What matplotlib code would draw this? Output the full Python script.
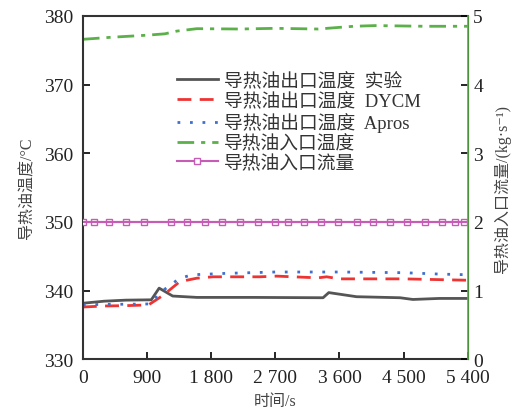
import matplotlib
matplotlib.use("Agg")
import matplotlib.pyplot as plt
from matplotlib.ticker import FixedLocator

plt.rcParams['font.family'] = ['Liberation Serif', 'Noto Sans CJK SC', 'DejaVu Sans']

# Outlet temperature, experiment
t_exp = [0, 300, 600, 960, 1070, 1260, 1600, 2400, 3370, 3450, 3840, 4450, 4630, 5000, 5400]
T_exp = [338.15, 338.45, 338.6, 338.65, 340.35, 339.2, 339.0, 339.0, 338.95, 339.7, 339.1, 338.95, 338.7, 338.85, 338.85]

# Outlet temperature, DYCM
t_dycm = [0, 300, 600, 920, 1125, 1360, 1600, 1825, 2480, 2720, 3300, 3420, 3600, 4500, 5400]
T_dycm = [337.6, 337.75, 337.8, 337.9, 339.3, 341.3, 341.8, 342.0, 342.0, 342.1, 341.85, 342.0, 341.7, 341.7, 341.5]

# Outlet temperature, Apros
t_apros = [0, 300, 600, 950, 1070, 1360, 1540, 2000, 2700, 3600, 4500, 5000, 5400]
T_apros = [337.9, 338.0, 338.0, 338.05, 339.6, 341.8, 342.3, 342.5, 342.7, 342.7, 342.6, 342.4, 342.3]

# Inlet temperature
t_in = [0, 400, 900, 1150, 1320, 1600, 2200, 2700, 3300, 3800, 4100, 4800, 5400]
T_in = [376.6, 376.9, 377.2, 377.4, 377.8, 378.15, 378.1, 378.2, 378.1, 378.5, 378.6, 378.5, 378.5]

# Inlet flow rate (kg/s)
t_flow = [0, 154, 365, 603, 856, 1234, 1459, 1711, 1950, 2202, 2455, 2693, 2875, 3100,
          3338, 3577, 3843, 4068, 4306, 4544, 4797, 5035, 5218, 5344, 5400]
flow = [2.0] * len(t_flow)

x_ticks = [0, 900, 1800, 2700, 3600, 4500, 5400]
x_labels = ['0', '900', '1 800', '2 700', '3 600', '4 500', '5 400']

labels = ['导热油出口温度  实验', '导热油出口温度  DYCM', '导热油出口温度  Apros',
          '导热油入口温度', '导热油入口流量']

fig = plt.figure(figsize=(5.18, 4.14), dpi=100)
ax = fig.add_axes([0.160, 0.130, 0.743, 0.829])
ax2 = ax.twinx()

l1, = ax.plot(t_exp, T_exp, color='#555555', lw=2.0)
l2, = ax.plot(t_dycm, T_dycm, color='#ee3333', lw=2.0, ls=(0, (5, 3)))
l3, = ax.plot(t_apros, T_apros, color='#3f6fcf', lw=2.0, ls=(0, (1, 3.5)))
l4, = ax.plot(t_in, T_in, color='#5cb04a', lw=2.0, ls=(0, (6, 2.5, 1.5, 2.5)))
l5, = ax2.plot(t_flow[:-1], flow[:-1], color='#c65cb5', lw=1.5, marker='s', ms=5,
               mfc='white', mec='#c65cb5', mew=1.0)
ax2.plot(t_flow, flow, color='#c65cb5', lw=1.5)

ax.set_xlim(0, 5400)
ax.set_ylim(330, 380)
ax2.set_ylim(0, 5)
ax.xaxis.set_major_locator(FixedLocator(x_ticks))
ax.set_xticklabels(x_labels)
ax.set_yticks([330, 340, 350, 360, 370, 380])
ax2.set_yticks([0, 1, 2, 3, 4, 5])

ax.tick_params(direction='in', labelsize=14, length=5, width=1.2, pad=7, labelcolor='#222222')
ax2.tick_params(direction='in', labelsize=14, length=5, width=1.2, pad=4, labelcolor='#222222')

for s in ['left', 'bottom', 'top']:
    ax.spines[s].set_linewidth(1.5)
    ax.spines[s].set_color('#333333')
ax2.spines['right'].set_color('#5cb04a')
ax2.spines['right'].set_linewidth(1.2)
for s in ['left', 'bottom', 'top']:
    ax2.spines[s].set_visible(False)

ax.set_xlabel('时间/s', fontsize=11.5, color='#444444', labelpad=5)
ax.set_ylabel('导热油温度/°C', fontsize=11.5, color='#444444', labelpad=6)
ax2.set_ylabel('导热油入口流量/(kg·s⁻¹)', fontsize=11.5, color='#444444', labelpad=8)

leg = ax.legend([l1, l2, l3, l4, l5], labels, loc='upper left',
                bbox_to_anchor=(0.2, 0.885), frameon=False,
                handlelength=2.2, handletextpad=0.3, labelspacing=0.12,
                prop={'family': ['Liberation Serif', 'Noto Sans CJK SC'], 'size': 13.5})
for txt in leg.get_texts():
    txt.set_color('#333333')

fig.savefig('out.png', dpi=100)
